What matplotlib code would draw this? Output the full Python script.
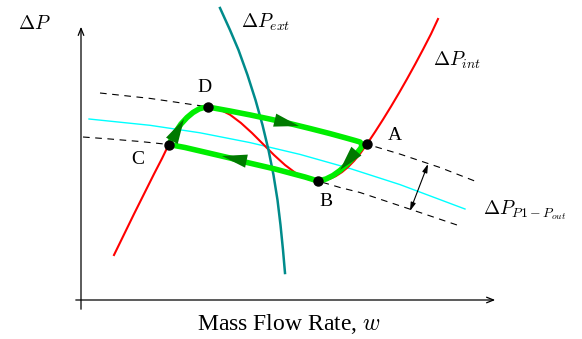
import matplotlib
matplotlib.use("Agg")
import matplotlib.pyplot as plt

plt.rcParams['mathtext.fontset'] = 'cm'
plt.rcParams['font.family'] = ['Liberation Serif', 'DejaVu Serif']

# curves, in picture pixel units (y grows downwards)
int_x = [114, 124, 134, 144, 154, 162, 169, 175, 181, 187, 193, 199, 204, 208,
         219, 230, 241, 252, 263, 274, 285, 296, 307, 318,
         324, 330, 336, 342, 348, 354, 360, 367, 375, 383, 391, 399, 407, 415, 423, 431, 438]
int_y = [255, 234.5, 214, 194, 174, 158.5, 144, 133.5, 124.7, 117.7, 112.5, 109, 107.4, 107,
         109.1, 114.7, 123, 133, 144, 155, 165, 173.3, 178.9, 181,
         180.4, 178.8, 176, 172.1, 167.1, 161, 153.8, 144, 132, 119.5, 106.5, 93, 79, 64.5, 49.5, 34, 19]

ext_x = [220, 230, 238.5, 247.5, 255.5, 262.5, 268.5, 273.5, 277.5, 280.5, 283, 285]
ext_y = [8, 30, 50, 75, 100, 125, 150, 175, 200, 225, 250, 273]

load_x = [89, 150, 200, 250, 300, 350, 400, 465]
load_y = [119, 125.3, 132.8, 142.6, 154.4, 168.5, 184.6, 209]

up_x = [100, 150, 200, 250, 300, 350, 400, 440, 476]
up_y = [93, 98.4, 105.7, 114.9, 126, 139.1, 154.1, 167.5, 181.5]

lo_x = [83, 110, 140, 169, 200, 230, 260, 290, 318, 340, 360, 390, 420, 457]
lo_y = [137, 139, 141.5, 144.5, 151, 158, 165.5, 173, 181, 187.5, 192.5, 202.5, 212.5, 225]

# hysteresis loop D -> A -> B -> C -> D
cyc_x = [208, 230, 250, 270, 290, 310, 330, 345, 355, 360, 362, 361, 357, 352, 346, 340, 333, 326, 318,
         305, 290, 275, 260, 245, 230, 215, 200, 185, 169,
         172, 176, 181, 187, 193, 199, 204, 208]
cyc_y = [107, 111, 114.9, 119.1, 123.6, 128.5, 133.6, 137.7, 140.5, 142, 144.5, 148, 153, 159, 165, 170.5, 175.5, 179, 181,
         177, 173, 169, 165.5, 162, 158, 154.5, 151, 147.5, 144.5,
         138, 131.5, 124, 117.5, 112.5, 109, 107.5, 107]

pts = {'A': (367, 144), 'B': (318, 181), 'C': (169, 144.5), 'D': (208, 107)}
pt_lbl = {'A': (395, 135), 'B': (326, 201), 'C': (138, 159), 'D': (204, 88)}

# direction arrows on the loop (tail, tip)
dir_arrows = [((270, 119), (299, 126)), ((360, 147), (340, 170)),
              ((253, 162.5), (222, 156)), ((169, 146), (184, 119))]

fig = plt.figure(figsize=(5.82, 3.39), dpi=100)
ax = fig.add_axes([0, 0, 1, 1])
ax.set_xlim(0, 582)
ax.set_ylim(339, 0)
ax.axis('off')

# axes
ax.annotate('', xy=(81, 24), xytext=(81, 312),
            arrowprops=dict(arrowstyle='->,head_length=0.5,head_width=0.2', color='black', lw=0.9))
ax.annotate('', xy=(498, 300), xytext=(73, 300),
            arrowprops=dict(arrowstyle='->,head_length=0.5,head_width=0.2', color='black', lw=0.9))

ax.plot(up_x, up_y, color='black', lw=0.8, ls=(0, (6, 5)))
ax.plot(lo_x, lo_y, color='black', lw=0.8, ls=(0, (6, 5)))
ax.plot(load_x, load_y, color='cyan', lw=1.0)
ax.plot(int_x, int_y, color='red', lw=1.5)
ax.plot(ext_x, ext_y, color='#008b8b', lw=1.8)
ax.plot(cyc_x, cyc_y, color='#00ee00', lw=4, solid_capstyle='round', solid_joinstyle='round')

for tail, tip in dir_arrows:
    ax.annotate('', xy=tip, xytext=tail,
                arrowprops=dict(arrowstyle='-|>,head_length=1.5,head_width=0.4', mutation_scale=12,
                                color='#007a00', lw=0, shrinkA=0, shrinkB=0))

for k, (x, y) in pts.items():
    ax.plot(x, y, 'o', color='black', ms=6.5)
    ax.text(pt_lbl[k][0], pt_lbl[k][1], k, fontsize=14, ha='center', va='center')

ax.annotate('', xy=(410, 211), xytext=(428, 164),
            arrowprops=dict(arrowstyle='<|-|>,head_length=0.5,head_width=0.15', color='black', lw=0.8,
                            shrinkA=0, shrinkB=0))

ax.text(34, 24, r'$\Delta P$', fontsize=14, ha='center', va='center')
ax.text(266, 22, r'$\Delta P_{ext}$', fontsize=14, ha='center', va='center')
ax.text(457, 60, r'$\Delta P_{int}$', fontsize=14, ha='center', va='center')
ax.text(525, 210, r'$\Delta P_{P1-P_{out}}$', fontsize=14, ha='center', va='center')
ax.text(289, 324, r'Mass Flow Rate, $w$', fontsize=17, ha='center', va='center')

fig.savefig('out.png', dpi=100)
